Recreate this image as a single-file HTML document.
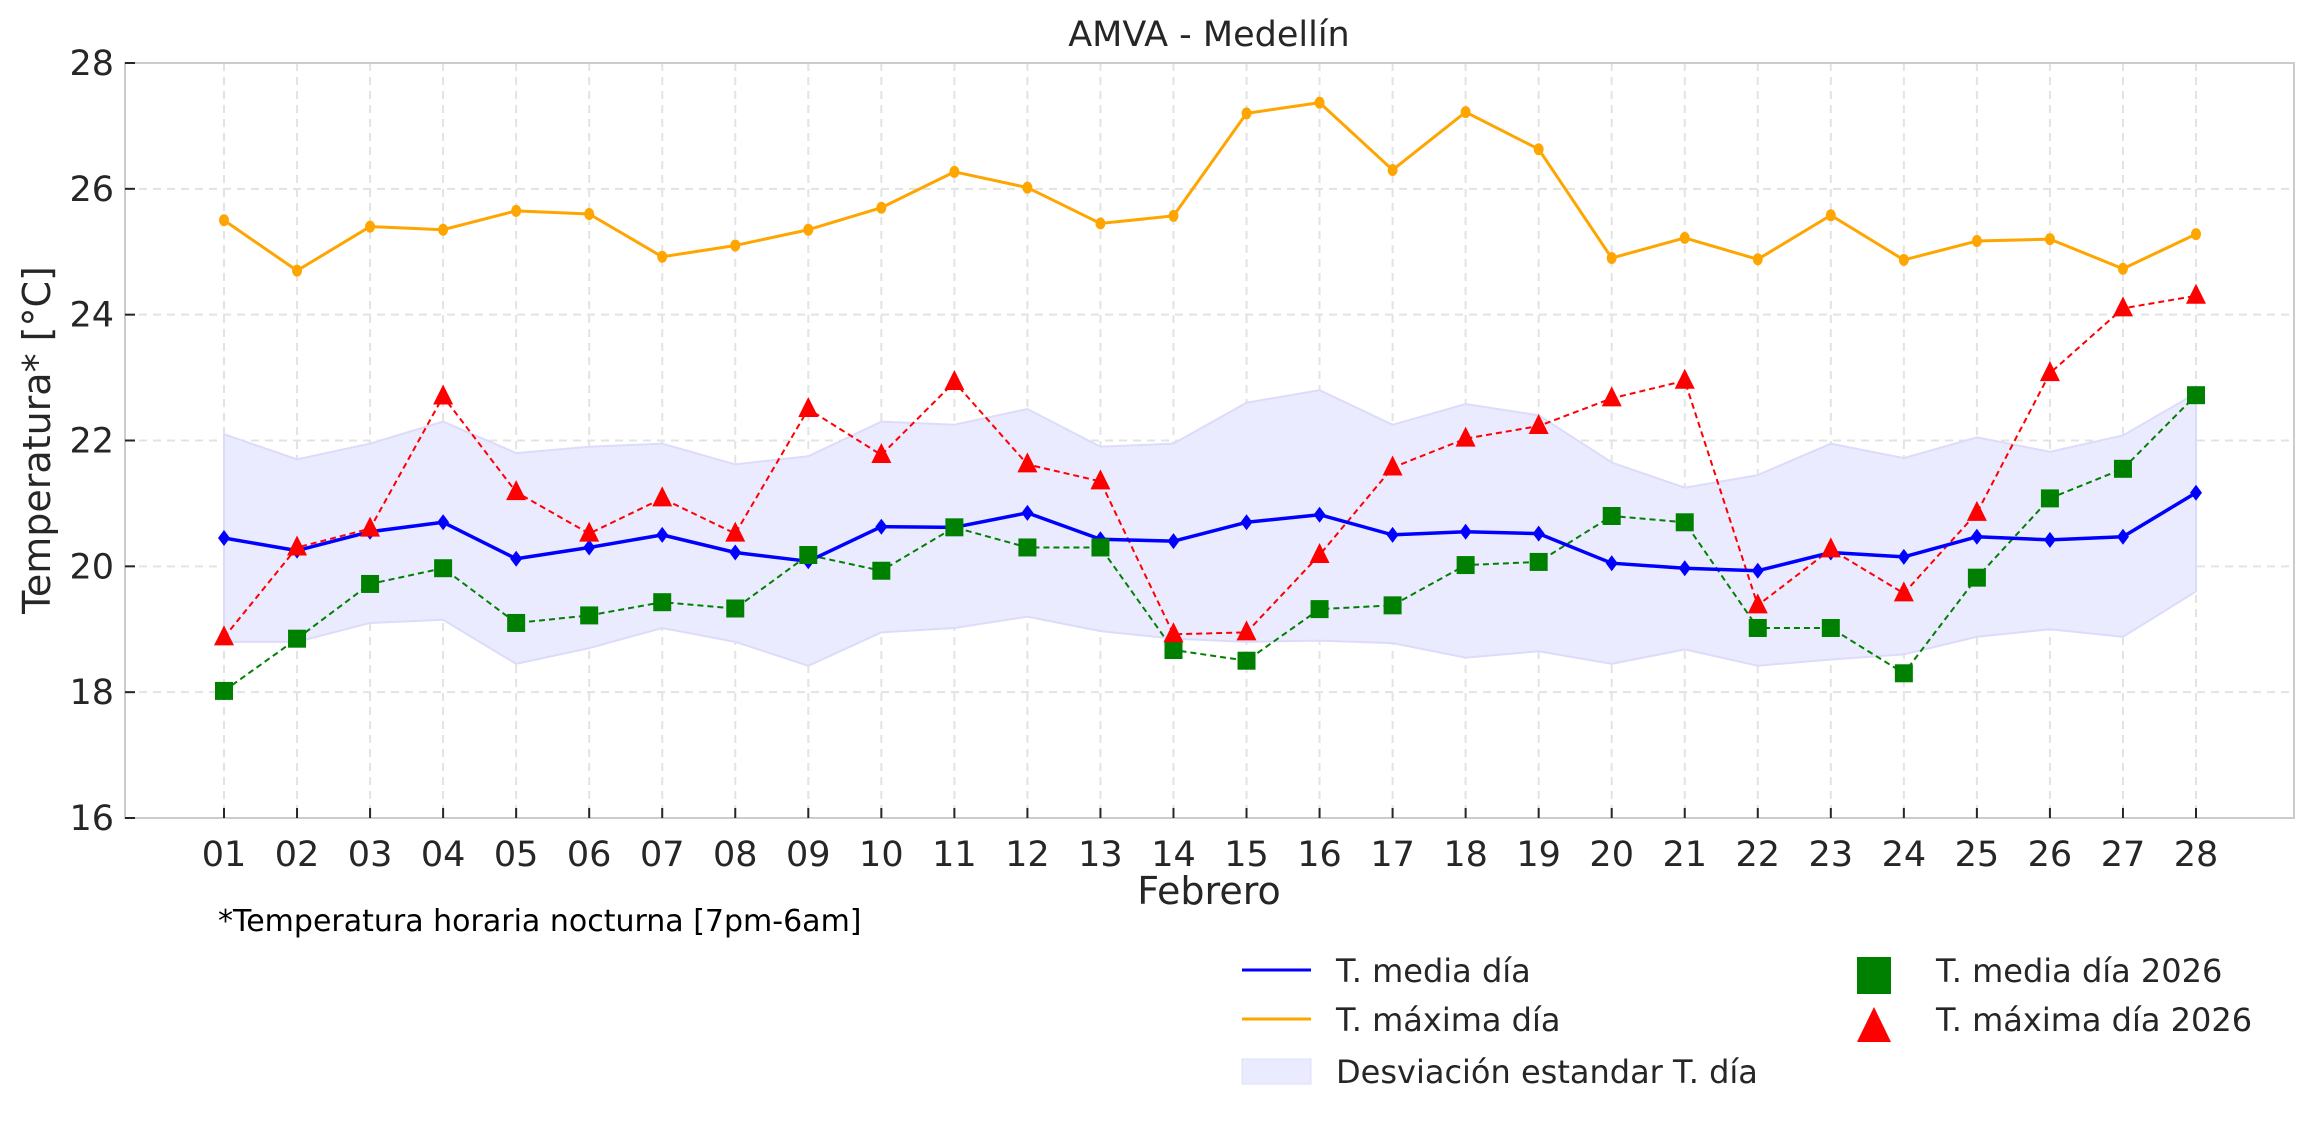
<!DOCTYPE html>
<html><head><meta charset="utf-8"><style>
html,body{margin:0;padding:0;background:#fff;}
svg{display:block;font-family:"DejaVu Sans","Liberation Sans",sans-serif;}
</style></head><body>
<svg id="chart" width="2314" height="1123" viewBox="0 0 2314 1123" xmlns="http://www.w3.org/2000/svg">
<text x="1209" y="46" font-size="35" fill="#262626" text-anchor="middle">AMVA - Medellín</text>
<g id="grid"></g>
<g id="band"></g>
<g id="series"></g>
<rect x="125" y="63" width="2169" height="755" fill="none" stroke="#cccccc" stroke-width="2"/>
<g id="axes"></g>
<text x="1209" y="904" font-size="38" fill="#262626" text-anchor="middle">Febrero</text>
<text transform="translate(50,440) rotate(-90)" font-size="38" fill="#262626" text-anchor="middle">Temperatura* [°C]</text>
<text x="218" y="931" font-size="30" fill="#000">*Temperatura horaria nocturna [7pm-6am]</text>
<g>
 <line x1="1242" y1="970" x2="1311" y2="970" stroke="#0000ff" stroke-width="3"/>
 <text x="1336" y="982" font-size="32" fill="#262626">T. media día</text>
 <line x1="1242" y1="1019" x2="1311" y2="1019" stroke="#ffa500" stroke-width="3"/>
 <text x="1336" y="1031" font-size="32" fill="#262626">T. máxima día</text>
 <rect x="1242" y="1059" width="69" height="25" fill="#ebebff" stroke="#dcdcfa"/>
 <text x="1336" y="1083" font-size="32" fill="#262626">Desviación estandar T. día</text>
 <rect x="1857" y="957" width="34" height="37" fill="#008000"/>
 <text x="1936" y="982" font-size="32" fill="#262626">T. media día 2026</text>
 <polygon points="1874,1007 1857,1042 1891,1042" fill="#ff0000"/>
 <text x="1936" y="1031" font-size="32" fill="#262626">T. máxima día 2026</text>
</g>
</svg>
<script>
const days = ["01","02","03","04","05","06","07","08","09","10","11","12","13","14","15","16","17","18","19","20","21","22","23","24","25","26","27","28"];
const yTicks = [16,18,20,22,24,26,28];
const maxDay = [25.5,24.7,25.4,25.35,25.65,25.6,24.92,25.1,25.35,25.7,26.27,26.02,25.45,25.57,27.2,27.37,26.3,27.22,26.63,24.9,25.22,24.88,25.58,24.87,25.17,25.2,24.73,25.28];
const meanDay = [20.45,20.25,20.55,20.7,20.12,20.3,20.5,20.22,20.08,20.63,20.62,20.85,20.43,20.4,20.7,20.82,20.5,20.55,20.52,20.05,19.97,19.93,20.22,20.15,20.47,20.42,20.47,21.17];
const bandUpper = [22.1,21.7,21.95,22.3,21.8,21.9,21.95,21.62,21.75,22.3,22.25,22.5,21.9,21.95,22.6,22.8,22.25,22.58,22.4,21.65,21.25,21.45,21.95,21.72,22.05,21.82,22.08,22.75];
const bandLower = [18.8,18.8,19.1,19.15,18.45,18.7,19.02,18.8,18.42,18.95,19.02,19.2,18.97,18.85,18.8,18.82,18.78,18.55,18.65,18.45,18.68,18.42,18.52,18.6,18.88,19.0,18.88,19.6];
const mean2026 = [18.02,18.85,19.72,19.97,19.1,19.22,19.43,19.33,20.18,19.93,20.62,20.3,20.3,18.67,18.5,19.32,19.38,20.02,20.07,20.8,20.7,19.02,19.02,18.3,19.82,21.08,21.55,22.72];
const max2026 = [18.87,20.3,20.6,22.7,21.18,20.52,21.08,20.52,22.5,21.77,22.93,21.62,21.35,18.92,18.95,20.18,21.57,22.03,22.23,22.67,22.95,19.38,20.27,19.57,20.85,23.07,24.1,24.3];

const NS="http://www.w3.org/2000/svg";
const L=125,R=2294,T=63,B=818;
function xs(i){return 224+i*(2196-224)/(days.length-1);}
function ys(v){return B-(v-16)*(B-T)/12;}
function mk(tag,attrs,parent){const e=document.createElementNS(NS,tag);for(const k in attrs)e.setAttribute(k,attrs[k]);parent.appendChild(e);return e;}
const grid=document.getElementById('grid'),axes=document.getElementById('axes'),band=document.getElementById('band'),ser=document.getElementById('series');

days.forEach((d,i)=>{
 const x=xs(i);
 const g=mk('line',{x1:x,y1:T,x2:x,y2:B,stroke:'#e3e3e3','stroke-width':2,'stroke-dasharray':'8,6'},grid);
 
 
 const t=mk('line',{x1:x,y1:B,x2:x,y2:B-10,stroke:'#262626','stroke-width':2},axes);
 
 
 const lb=mk('text',{x:x,y:866,'font-size':35,fill:'#262626','text-anchor':'middle'},axes);
 lb.textContent=d;
 
 
});
yTicks.forEach(v=>{
 const y=ys(v);
 if(v>16&&v<28){const g=mk('line',{x1:L,y1:y,x2:R,y2:y,stroke:'#e3e3e3','stroke-width':2,'stroke-dasharray':'8,6'},grid);
 
 }
 const t=mk('line',{x1:L,y1:y,x2:L+10,y2:y,stroke:'#262626','stroke-width':2},axes);
 
 
 const lb=mk('text',{x:114,y:y+12,'font-size':35,fill:'#262626','text-anchor':'end'},axes);
 lb.textContent=v;
 
 
});

let bp=bandUpper.map((v,i)=>xs(i)+','+ys(v)).concat(bandLower.map((v,i)=>[i,v]).reverse().map(p=>xs(p[0])+','+ys(p[1])));
const poly=mk('polygon',{points:bp.join(' '),fill:'#ebebff',stroke:'#dcdcfa','stroke-width':2},band);



function line(arr,color,w,dash,name){
 const p=mk('polyline',{points:arr.map((v,i)=>xs(i)+','+ys(v)).join(' '),fill:'none',stroke:color,'stroke-width':w,'stroke-dasharray':dash||'none','stroke-linejoin':'round'},ser);
 
 
}
line(maxDay,'#ffa500',3,null,'max-day-line');
maxDay.forEach((v,i)=>{const c=mk('ellipse',{cx:xs(i),cy:ys(v),rx:5,ry:6,fill:'#ffa500'},ser);
 
 });
line(mean2026,'#008000',2,'6,4','mean2026-line');
line(max2026,'#ff0000',2,'6,4','max2026-line');
line(meanDay,'#0000ff',3.5,null,'mean-day-line');
meanDay.forEach((v,i)=>{const x=xs(i),y=ys(v);const c=mk('polygon',{points:`${x},${y-8} ${x+6},${y} ${x},${y+8} ${x-6},${y}`,fill:'#0000ff'},ser);
 
 });
mean2026.forEach((v,i)=>{const c=mk('rect',{x:xs(i)-9,y:ys(v)-9,width:18,height:18,fill:'#008000'},ser);
 
 });
max2026.forEach((v,i)=>{const x=xs(i),y=ys(v);const c=mk('polygon',{points:`${x},${y-12} ${x-10},${y+8} ${x+10},${y+8}`,fill:'#ff0000'},ser);
 
 });
</script>
</body></html>
